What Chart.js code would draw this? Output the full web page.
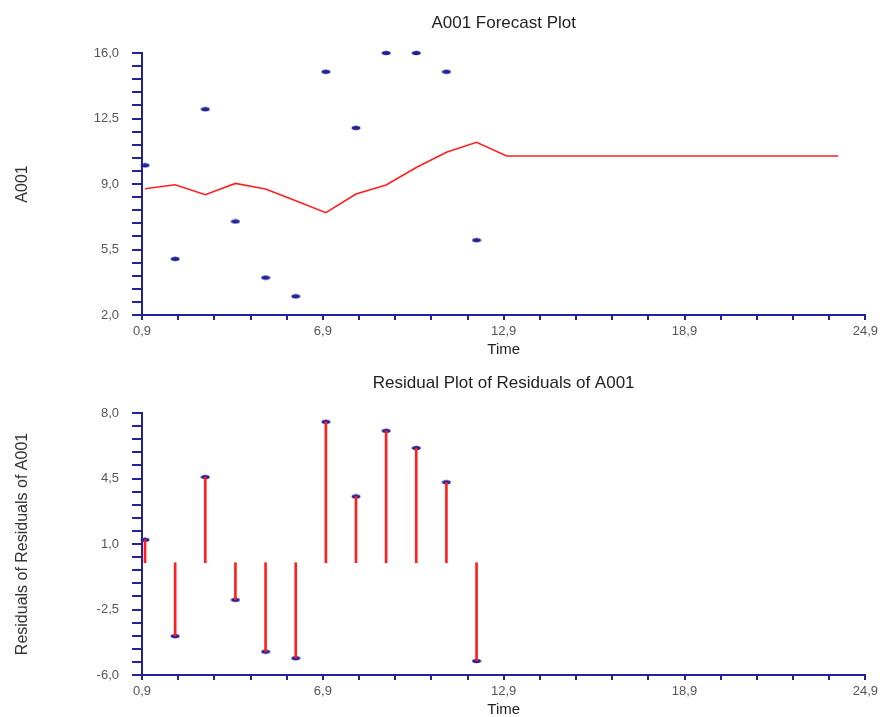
<!DOCTYPE html>
<html>
<head>
<meta charset="utf-8">
<title>A001 Forecast</title>
<script src="https://cdn.jsdelivr.net/npm/chart.js@4.4.0/dist/chart.umd.min.js"></script>
<style>
  html, body { margin: 0; padding: 0; background: #fff; overflow: hidden; }
  .box { width: 882px; height: 360px; }
</style>
</head>
<body>
<div class="box"><canvas id="forecastChart" width="882" height="360"></canvas></div>
<div class="box"><canvas id="residualChart" width="882" height="360"></canvas></div>
<script>
// observed values (time 1..12)
const times = [1, 2, 3, 4, 5, 6, 7, 8, 9, 10, 11, 12];
const actual = [10, 5, 13, 7, 4, 3, 15, 12, 16, 16, 15, 6];

// forecast line (time 1..24)
const forecastTimes = [1, 2, 3, 4, 5, 6, 7, 8, 9, 10, 11, 12, 13, 14, 15, 16, 17, 18, 19, 20, 21, 22, 23, 24];
const forecast = [8.75, 8.96, 8.43, 9.03, 8.73, 8.1, 7.47, 8.46, 8.95, 9.88, 10.7, 11.23,
                  10.5, 10.5, 10.5, 10.5, 10.5, 10.5, 10.5, 10.5, 10.5, 10.5, 10.5, 10.5];

// residuals (time 1..12)
const residuals = [1.23, -3.92, 4.58, -1.98, -4.75, -5.1, 7.53, 3.54, 7.05, 6.13, 4.3, -5.25];

// axis ranges / tick steps
const xRange = [0.9, 24.9];
const xStep = 1.2;
const forecastRange = [2, 16];
const residualRange = [-6, 8];
const yStep = 0.7;

const navy = '#22229a';
const red = '#ff1f1f';
const tickGray = '#555555';
const fontFamily = '"Liberation Sans", Arial, sans-serif';

Chart.defaults.font.family = fontFamily;

function fmt(v) {
    return v.toFixed(1).replace('.', ',');
}

// small blue marker used by both plots
function makeMarker() {
    const c = document.createElement('canvas');
    c.width = 10;
    c.height = 6;
    const g = c.getContext('2d');
    g.fillStyle = navy;
    g.beginPath();
    g.ellipse(5, 3, 4.5, 2, 0, 0, Math.PI * 2);
    g.fill();
    g.fillRect(4.5, 0.5, 1, 5);
    return c;
}
const marker = makeMarker();

// top axis only used to hold the plot title centred over the plot area
function titleAxis(text) {
    return {
        type: 'linear',
        position: 'top',
        ticks: { display: false },
        grid: { display: false, drawTicks: false },
        border: { display: false },
        title: {
            display: true,
            text: text,
            color: '#222',
            font: { size: 17 },
            padding: { top: 13, bottom: 0 }
        },
        afterFit: s => { s.height = 53; }
    };
}

function timeAxis() {
    return {
        type: 'linear',
        position: 'bottom',
        min: xRange[0],
        max: xRange[1],
        offset: false,
        ticks: {
            stepSize: xStep,
            autoSkip: false,
            maxRotation: 0,
            padding: 4,
            color: tickGray,
            font: { size: 13 },
            callback: (v, i) => i % 5 === 0 ? fmt(v) : ''
        },
        grid: { drawOnChartArea: false, drawTicks: true, tickLength: 5, color: navy, lineWidth: 2, offset: false },
        border: { display: true, color: navy, width: 2 },
        title: { display: true, text: 'Time', color: '#222', font: { size: 15 }, padding: { top: 0, bottom: 1 } },
        afterFit: s => { s.height = 45; }
    };
}

function valueAxis(range, label) {
    return {
        type: 'linear',
        position: 'left',
        min: range[0],
        max: range[1],
        ticks: {
            stepSize: yStep,
            autoSkip: false,
            padding: 13,
            color: tickGray,
            font: { size: 13 },
            callback: (v, i) => i % 5 === 0 ? fmt(v) : ''
        },
        grid: { drawOnChartArea: false, drawTicks: true, tickLength: 10, color: navy, lineWidth: 2 },
        border: { display: true, color: navy, width: 2 },
        title: { display: true, text: label, color: '#333', font: { size: 16 }, padding: { top: 13, bottom: 0 } },
        afterFit: s => { s.width = 142; }
    };
}

const baseOptions = {
    responsive: false,
    animation: false,
    layout: { padding: { left: 0, right: 15, top: 0, bottom: 0 } },
    plugins: {
        legend: { display: false },
        tooltip: { enabled: false },
        title: { display: false }
    }
};

// Forecast plot
new Chart(document.getElementById('forecastChart').getContext('2d'), {
    type: 'scatter',
    data: {
        datasets: [{
            type: 'line',
            label: 'Forecast',
            xAxisID: 'x',
            yAxisID: 'y',
            data: forecastTimes.map((t, i) => ({ x: t, y: forecast[i] })),
            borderColor: red,
            borderWidth: 1.6,
            pointRadius: 0,
            fill: false,
            tension: 0,
            clip: false
        }, {
            label: 'A001',
            xAxisID: 'x',
            yAxisID: 'y',
            data: times.map((t, i) => ({ x: t, y: actual[i] })),
            pointStyle: marker,
            pointRadius: 4,
            clip: false
        }]
    },
    options: {
        ...baseOptions,
        scales: {
            x: timeAxis(),
            y: valueAxis(forecastRange, 'A001'),
            x2: titleAxis('A001 Forecast Plot')
        }
    }
});

// Residual plot
new Chart(document.getElementById('residualChart').getContext('2d'), {
    type: 'scatter',
    data: {
        datasets: [{
            type: 'bar',
            label: 'stems',
            xAxisID: 'x',
            yAxisID: 'y',
            data: times.map((t, i) => ({ x: t, y: [0, residuals[i]] })),
            backgroundColor: red,
            borderWidth: 0,
            barThickness: 2,
            clip: false
        }, {
            label: 'Residuals',
            xAxisID: 'x',
            yAxisID: 'y',
            data: times.map((t, i) => ({ x: t, y: residuals[i] })),
            pointStyle: marker,
            pointRadius: 4,
            clip: false
        }]
    },
    options: {
        ...baseOptions,
        scales: {
            x: timeAxis(),
            y: valueAxis(residualRange, 'Residuals of Residuals of A001'),
            x2: titleAxis('Residual Plot of Residuals of A001')
        }
    }
});
</script>
</body>
</html>
